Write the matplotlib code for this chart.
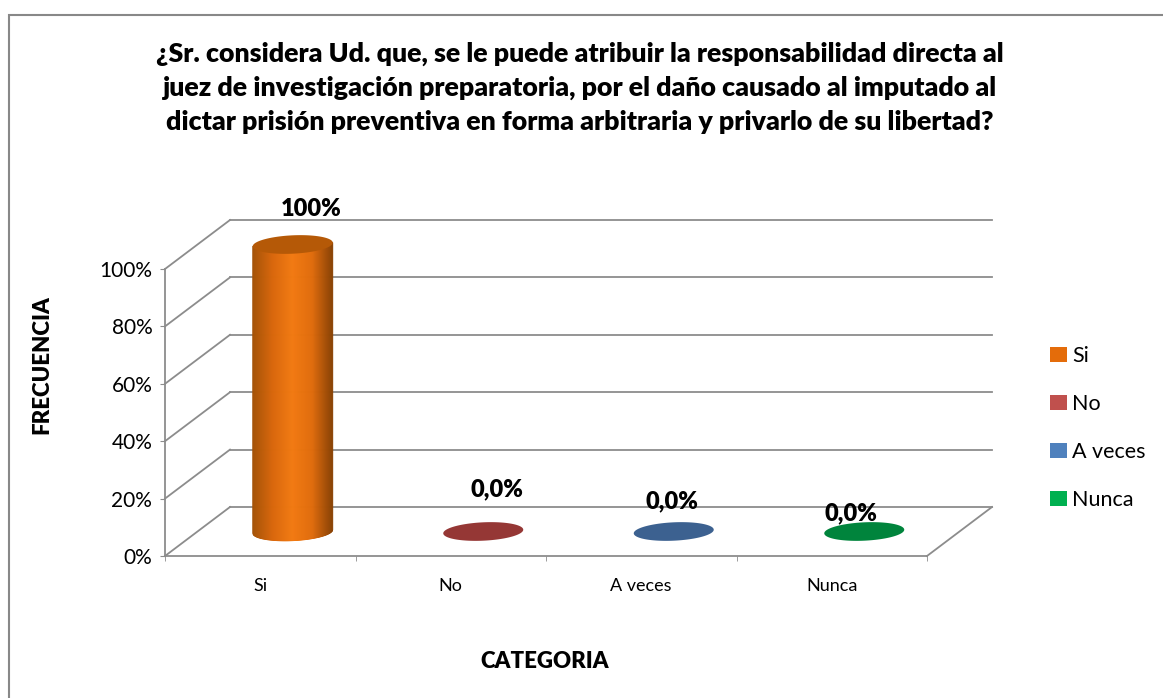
import matplotlib.pyplot as plt
import numpy as np
from matplotlib.patches import Polygon, Rectangle, Patch
from matplotlib.colors import LinearSegmentedColormap

plt.rcParams['font.family'] = ['Lato', 'DejaVu Sans']

categorias = ['Si', 'No', 'A veces', 'Nunca']
porcentajes = [100, 0, 0, 0]
etiquetas = ['100%', '0,0%', '0,0%', '0,0%']
yticks = [0, 20, 40, 60, 80, 100]

colores_leyenda = ['#e46c0a', '#c0504d', '#4f81bd', '#00b050']
colores_tapa = ['#b55907', '#953735', '#3c6190', '#00843c']
# label nudges in pixels (Excel put them slightly off)
desplaz = [(18, 36), (14, 42), (-2, 30), (-13, 18)]

titulo = ('¿Sr. considera Ud. que, se le puede atribuir la responsabilidad directa al\n'
          'juez de investigación preparatoria, por el daño causado al imputado al\n'
          'dictar prisión preventiva en forma arbitraria y privarlo de su libertad?')

gris = '#8c8c8c'
negrita = 'heavy'

fig = plt.figure(figsize=(11.63, 6.98), dpi=100)
ax = fig.add_axes([165 / 1163, 1 - 556 / 698, 762 / 1163, 287 / 698])
ax.set_xlim(-0.5, 3.5)
ax.set_ylim(0, 100)

# depth of the fake 3d box, in data units
dx = 65 / 190.5
dy = 49 / 2.87

# back wall + side wall lines
for v in yticks:
    ax.plot([-0.5 + dx, 3.5 + dx], [v + dy, v + dy], color=gris, lw=1.3, clip_on=False, zorder=1)
    ax.plot([-0.5, -0.5 + dx], [v, v + dy], color=gris, lw=1.3, clip_on=False, zorder=1)
ax.plot([3.5, 3.5 + dx], [0, dy], color=gris, lw=1.3, clip_on=False, zorder=1)

a = 0.21      # half width of cylinder
b = 3.2       # half height of ellipse
k = 3.0       # small tilt of the ellipse

def elipse(cx, cy, t):
    xs = cx + a * np.cos(t)
    ys = cy + b * np.sin(t) + k * a * np.cos(t)
    return xs, ys

cmap = LinearSegmentedColormap.from_list('cil', ['#a35207', '#d8670c', '#f27a12', '#e06c0c', '#8a4204'])
base = dy / 2

for i, v in enumerate(porcentajes):
    cx = i + dx / 2
    if v > 0:
        # body as thin vertical strips to get the shading
        n = 80
        xs = np.linspace(-a, a, n + 1)
        for j in range(n):
            x0, x1 = xs[j], xs[j + 1]
            seg = np.linspace(x0, x1, 3)
            h = b * np.sqrt(np.clip(1 - (seg / a) ** 2, 0, 1))
            low = base - h + k * seg
            up = base + v + k * seg
            poly = np.column_stack([np.concatenate([cx + seg, cx + seg[::-1]]),
                                    np.concatenate([low, up[::-1]])])
            col = cmap((j + 0.5) / n)
            ax.add_patch(Polygon(poly, closed=True, facecolor=col, edgecolor=col,
                                 lw=0.6, zorder=3, clip_on=False))
    t = np.linspace(0, 2 * np.pi, 120)
    ex, ey = elipse(cx, base + v, t)
    ax.add_patch(Polygon(np.column_stack([ex, ey]), closed=True,
                         facecolor=colores_tapa[i], edgecolor='none', zorder=4, clip_on=False))
    ax.annotate(etiquetas[i], (cx, base + v), xytext=desplaz[i], textcoords='offset pixels',
                ha='center', va='center', fontsize=17, fontweight=negrita, zorder=5,
                annotation_clip=False)

ax.set_xlim(-0.5, 3.5)
ax.set_ylim(0, 100)

ax.set_yticks(yticks)
ax.set_yticklabels([f'{v}%' for v in yticks])
ax.set_xticks(range(len(categorias)))
ax.set_xticklabels(categorias)
ax.set_xticks([-0.5, 0.5, 1.5, 2.5, 3.5], minor=True)
ax.tick_params(axis='y', length=3.6, color=gris, labelsize=15, pad=5.5)
ax.tick_params(axis='x', which='major', length=0, labelsize=13, pad=16)
ax.tick_params(axis='x', which='minor', length=3.6, color=gris)
for s in ['top', 'right']:
    ax.spines[s].set_visible(False)
for s in ['left', 'bottom']:
    ax.spines[s].set_color(gris)
    ax.spines[s].set_linewidth(1.3)
ax.set_facecolor('none')

fig.text(42 / 1163, 1 - 365 / 698, 'FRECUENCIA', rotation=90, ha='center', va='center',
         fontsize=16, fontweight=negrita)
fig.text(545 / 1163, 1 - 661 / 698, 'CATEGORIA', ha='center', va='center',
         fontsize=16, fontweight=negrita)
fig.text(580 / 1163, 1 - 88 / 698, titulo, ha='center', va='center', fontsize=19.3,
         fontweight=negrita, linespacing=1.5)

handles = [Patch(facecolor=c) for c in colores_leyenda]
fig.legend(handles, categorias, loc='center left', bbox_to_anchor=(1031 / 1163, 1 - 428 / 698),
           frameon=False, fontsize=15.5, handlelength=0.75, handleheight=0.75,
           handletextpad=0.25, labelspacing=1.3)

fig.add_artist(Rectangle((9 / 1163, -0.1), 1.2, 1.1 - 15 / 698, transform=fig.transFigure,
                         fill=False, edgecolor='#888888', lw=1.5))

fig.savefig('out.png', dpi=100)
